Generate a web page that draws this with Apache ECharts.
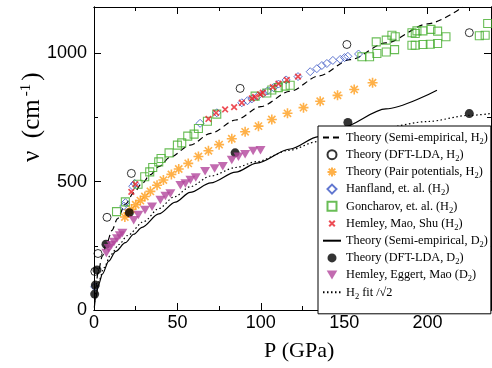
<!DOCTYPE html>
<html><head><meta charset="utf-8">
<script src="https://cdn.jsdelivr.net/npm/echarts@6/dist/echarts.min.js"></script>
<style>html,body{margin:0;padding:0;background:#fff}#c{width:492px;height:368px}</style>
</head><body><div id="c"></div>
<script>
// ---- data: [P (GPa), nu (cm^-1)] ----
const semiEmpiricalH2 = [[0.3,45],[1,85],[2.5,150],[5,210],[7.5,258],[10.8,310],[14,355],[18.8,412],[23.8,456],[28.8,493],[33.8,527],[38.8,558],[45.6,595],[57.6,642],[70,688],[85,740],[100,792],[117.6,852],[135,912],[153.6,975],[175,1040],[200,1114],[221,1180]];
const dftH2 = [[0.5,150],[2.4,220],[7.8,361],[22.4,532],[87.6,863],[151.6,1034],[225,1080]];
const pairPotH2 = [[18.5,362],[20.5,378],[22.5,392],[25,410],[27.8,426],[30.5,442],[33.8,462],[37.8,486],[41.6,506],[46.4,528],[50.8,549],[56.5,571],[62.6,598],[68.6,620],[75,644],[82.6,667],[90.6,694],[98.6,716],[106.6,742],[116,766],[125.6,788],[135.6,813],[146,836],[156,859],[167,885]];
const hanflandH2 = [[0.4,90],[17.8,405],[18.8,418],[23.2,482],[24.4,493],[63.6,727],[73.6,768],[88.6,807],[92,815],[94.6,822],[98,832],[101.6,844],[104,853],[107.6,866],[110.6,880],[115.2,896],[122.3,909],[129.6,928],[133.6,940],[136.6,952],[139.6,960],[143.2,972],[147.6,976],[150.2,983],[152.2,988],[158.6,997]];
const goncharovH2 = [[13.5,383],[18.8,421],[26.4,490],[30.4,519],[33.4,538],[35.2,555],[38.8,577],[40.2,590],[45,612],[50,642],[52.6,651],[56.2,677],[60,685],[62.6,707],[68,735],[73.6,763],[96.6,833],[103.6,845],[106.6,857],[110.5,866],[114.6,872],[117.6,875],[160.6,986],[165.2,986],[169.6,999],[175.2,1005],[180.2,1014],[190.6,1031],[192.6,1031],[197.2,1034],[201.6,1035],[206,1038],[231,1068],[234.5,1070],[169.2,1044],[175.2,1051],[178.6,1070],[180.6,1064],[190.6,1080],[192.6,1077],[193.6,1087],[197.2,1087],[202,1093],[206,1086],[211,1064],[236,1116]];
const hemleyMaoShuH2 = [[22.4,460],[24.8,490],[68.6,744],[73.2,768],[78.6,781],[84,790],[88.6,807],[94.6,824],[96.6,830],[99.6,840],[101.2,846],[107.2,868],[110.6,881],[115.6,896],[122.3,909]];
const semiEmpiricalD2 = [[0.2,10],[0.8,40],[2.8,100],[5,140],[8.8,190],[13,228],[18.8,262],[23.8,295],[28.8,322],[38.8,374],[48.8,420],[57.6,458],[70,495],[85,537],[97.6,572],[117.6,627],[134.6,675],[147.6,708],[175,783],[205.6,856]];
const dftD2 = [[0.4,62],[0.8,97],[1.8,156],[7.2,256],[21.2,379],[84.6,612],[152.2,730],[225,765]];
const hemleyEggertMaoD2 = [[7.4,222],[8.8,240],[10.4,252],[12,265],[13.8,278],[15.5,290],[17,300],[23.8,350],[26.6,370],[30.6,389],[34.8,402],[39.8,428],[42.8,444],[45.8,454],[51.8,486],[54.8,493],[57.8,506],[61,516],[66.6,540],[72.3,551],[77.2,560],[82.6,584],[86.6,597],[90.6,607],[95.4,619],[99.8,622]];
const h2FitOverSqrt2 = [[0.3,30],[1,65],[3,115],[6,165],[10,215],[15,255],[20,290],[30,345],[38.8,395],[48,440],[57.6,480],[70,522],[85,555],[97.6,578],[117,622],[134,656],[150,683],[171.6,708],[200,734],[225,758],[238,765]];

const seriesNames = ['Theory (Semi-empirical, H2)','Theory (DFT-LDA, H2)','Theory (Pair potentials, H2)','Hanfland, et. al. (H2)','Goncharov, et. al. (H2)','Hemley, Mao, Shu (H2)','Theory (Semi-empirical, D2)','Theory (DFT-LDA, D2)','Hemley, Eggert, Mao (D2)','H2 fit /√2'];
const xTickLabels = [0,50,100,150,200];
const yTickLabels = [0,500,1000];

const X_MAX = 238, Y_MAX = 1180;
const SANS = 'Liberation Sans', SERIF = 'Liberation Serif';

function xAxis(pos, interval, len, labels) {
  return {type:'value', position:pos, min:0, max:X_MAX, interval:interval,
    axisLine:{show:true, onZero:false, lineStyle:{color:'#000', width:1}},
    axisTick:{show:true, inside:true, length:len, lineStyle:{color:'#000', width:1}},
    axisLabel:{show:labels, showMaxLabel:false, color:'#000', fontFamily:SANS, fontSize:18, margin:4,
      formatter: v => xTickLabels.indexOf(v) >= 0 ? String(v) : ''},
    splitLine:{show:false}};
}
function yAxis(pos, interval, len, labels) {
  return {type:'value', position:pos, min:0, max:Y_MAX, interval:interval,
    axisLine:{show:true, onZero:false, lineStyle:{color:'#000', width:1}},
    axisTick:{show:true, inside:true, length:len, lineStyle:{color:'#000', width:1}},
    axisLabel:{show:labels, showMaxLabel:false, color:'#000', fontFamily:SANS, fontSize:18, margin:7,
      formatter: v => yTickLabels.indexOf(v) >= 0 ? String(v) : ''},
    splitLine:{show:false}};
}

const X_PATH = 'path://M-1.6,-1.6M1.6,1.6M-1,-1L1,1M-1,1L1,-1';
const STAR_PATH = 'path://M0,-5L0,5M-5,0L5,0M-3.6,-3.6L3.6,3.6M-3.6,3.6L3.6,-3.6';
const DIAMOND_PATH = 'path://M0,-1L1,0L0,1L-1,0Z';
const SQUARE_PATH = 'path://M-1,-1L1,-1L1,1L-1,1Z';
const TRI_DOWN_PATH = 'path://M-1,-0.85L1,-0.85L0,0.85Z';

function lineSeries(name, data, type) {
  return {name, type:'line', data, symbol:'none', smooth:0.3, smoothMonotone:'x',
    lineStyle:{color:'#000', width:1.2, type:type}, itemStyle:{color:'#000'}, z:2, clip:true};
}
function scatter(name, data, symbol, size, itemStyle) {
  return {name, type:'scatter', data, symbol, symbolSize:size, symbolKeepAspect:true, itemStyle, z:3, clip:true};
}
const open = (c, w) => ({color:'rgba(0,0,0,0)', borderColor:c, borderWidth:w});
const lineLegend = n => ({name:n, itemStyle:{color:'rgba(0,0,0,0)', borderWidth:0, opacity:0}});

const chart = echarts.init(document.getElementById('c'));
chart.setOption({
  animation:false,
  backgroundColor:'#fff',
  grid:{left:94, right:1, top:7, bottom:58, containLabel:false},
  xAxis:[xAxis('bottom',50,7,true), xAxis('bottom',25,4,false), xAxis('top',50,7,false), xAxis('top',25,4,false)],
  yAxis:[yAxis('left',500,7,true), yAxis('left',250,4,false), yAxis('right',500,7,false), yAxis('right',250,4,false)],
  legend:{orient:'vertical', left:318, top:126, padding:[3,3,13,4], itemGap:0.2, itemWidth:18, itemHeight:9,
    symbolKeepAspect:true,
    backgroundColor:'#fff', borderColor:'#000', borderWidth:1, z:10,
    formatter: n => n.replace(/([HD])2/g, '$1{s|2}'),
    textStyle:{fontFamily:SERIF, fontSize:12.3, lineHeight:17, color:'#000',
      rich:{s:{fontFamily:SERIF, fontSize:8.5, color:'#000', padding:[8,0,0,0]}}},
    data:[lineLegend(seriesNames[0]), seriesNames[1], seriesNames[2], seriesNames[3], seriesNames[4], seriesNames[5],
          lineLegend(seriesNames[6]), seriesNames[7], seriesNames[8], lineLegend(seriesNames[9])]},
  graphic:[
    {type:'text', left:264, top:340, style:{text:'P (GPa)', font:'22px "Liberation Serif"', fill:'#000'}},
    {type:'text', x:19, y:162, rotation:Math.PI/2, style:{text:'{a|ν  (cm}{p|-1}{a|)}', fill:'#000',
      rich:{a:{font:'25px "Liberation Serif"', fill:'#000'}, p:{font:'15px "Liberation Serif"', fill:'#000', padding:[0,3,12,3]}}}}
  ],
  series:[
    lineSeries(seriesNames[0], semiEmpiricalH2, [6,4]),
    scatter(seriesNames[1], dftH2, 'circle', 8, open('#000',1)),
    scatter(seriesNames[2], pairPotH2, STAR_PATH, 10, {color:'#ff9e1c', borderColor:'#ff9e1c', borderWidth:1.6}),
    scatter(seriesNames[3], hanflandH2, DIAMOND_PATH, 8, open('#3a55c4',1)),
    scatter(seriesNames[4], goncharovH2, SQUARE_PATH, 8, open('#44ad2c',1.1)),
    scatter(seriesNames[5], hemleyMaoShuH2, X_PATH, 9, {color:'rgba(0,0,0,0)', borderColor:'#e8202a', borderWidth:1.7}),
    lineSeries(seriesNames[6], semiEmpiricalD2, 'solid'),
    scatter(seriesNames[7], dftD2, 'circle', 9, {color:'#000'}),
    scatter(seriesNames[8], hemleyEggertMaoD2, TRI_DOWN_PATH, 10, {color:'#b3469c'}),
    lineSeries(seriesNames[9], h2FitOverSqrt2, [1.5,2.5])
  ]
});
</script></body></html>
